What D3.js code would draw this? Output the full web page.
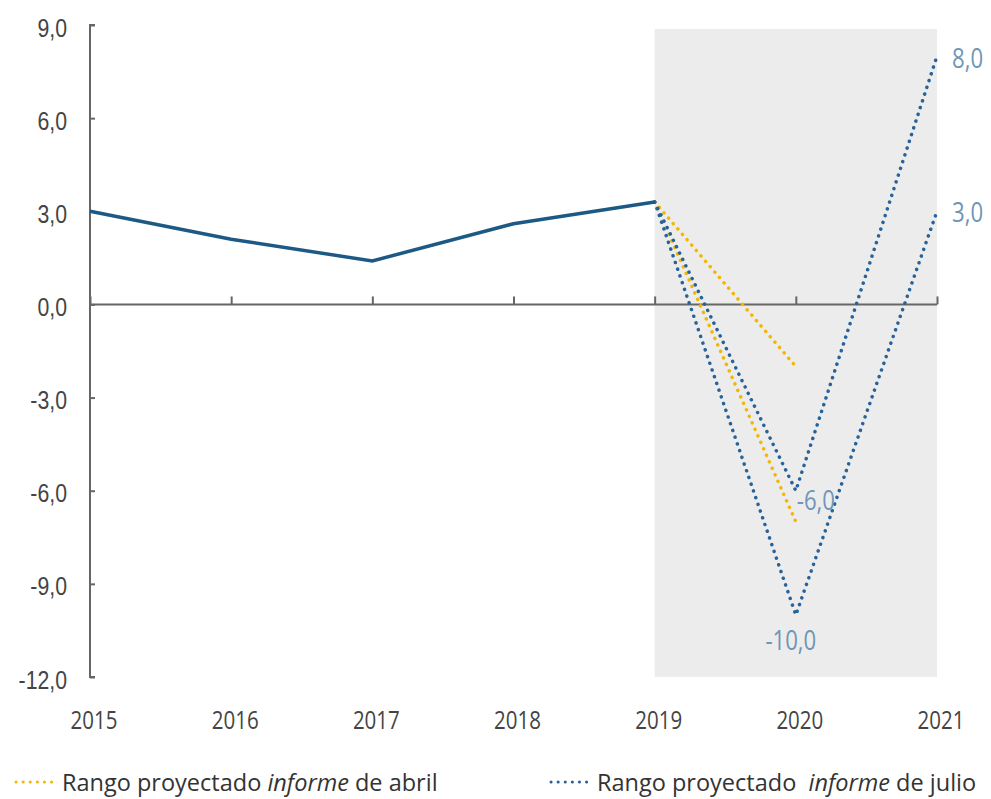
<!DOCTYPE html>
<html>
<head>
<meta charset="utf-8">
<script src="https://cdnjs.cloudflare.com/ajax/libs/d3/7.8.5/d3.min.js"></script>
<style>
  body { margin: 0; background: #fff; }
  svg { font-family: "Open Sans", "Noto Sans", sans-serif; }
</style>
</head>
<body>
<svg></svg>
<script>
// historical growth
var years = [2015, 2016, 2017, 2018, 2019];
var growth = [3.0, 2.1, 1.4, 2.6, 3.3];

// projection ranges
var projYears = [2019, 2020, 2021];
var abrilLow = [3.3, -7.0];
var abrilHigh = [3.3, -2.0];
var julioLow = [3.3, -10.0, 3.0];
var julioHigh = [3.3, -6.0, 8.0];

var yTicks = [9, 6, 3, 0, -3, -6, -9, -12];
var xTicks = [2015, 2016, 2017, 2018, 2019, 2020, 2021];

var svgW = 991, svgH = 799;
var svg = d3.select("svg").attr("width", svgW).attr("height", svgH);

var xScale = d3.scaleLinear().domain([2015, 2021]).range([90, 937]);
var yScale = d3.scaleLinear().domain([-12, 9]).range([677, 25]);

var fmt = function(v) { return d3.format(".1f")(v).replace(".", ",").replace("−", "-"); };

// squeeze text to look like the narrow font of the original
function condense(sel, k) {
  sel.each(function() {
    var w = this.getComputedTextLength();
    d3.select(this).attr("textLength", w * k).attr("lengthAdjust", "spacingAndGlyphs");
  });
}

// shaded projection area
svg.append("rect")
  .attr("x", xScale(2019))
  .attr("y", yScale(9) + 4)
  .attr("width", xScale(2021) - xScale(2019))
  .attr("height", yScale(-12) - yScale(9) - 4)
  .style("fill", "#ececec");

// y axis
var yAxis = svg.append("g")
  .attr("transform", "translate(" + xScale(2015) + ",0)")
  .call(d3.axisRight(yScale).tickValues(yTicks).tickSize(5).tickFormat(fmt));
yAxis.select(".domain").attr("d", "M5," + yScale(9) + "H0V" + yScale(-12) + "H5");
yAxis.selectAll("line").style("stroke", "#666").style("stroke-width", 2);
yAxis.select(".domain").style("stroke", "#666").style("stroke-width", 2);
yAxis.selectAll("text")
  .attr("x", -23)
  .attr("y", 2)
  .attr("dy", "0.36em")
  .style("text-anchor", "end")
  .style("font-size", "25px")
  .style("fill", "#444")
  .call(condense, 0.85);

// x axis at zero
var xAxis = svg.append("g")
  .attr("transform", "translate(0," + yScale(0) + ")")
  .call(d3.axisTop(xScale).tickValues(xTicks).tickSize(8).tickFormat(""));
xAxis.select(".domain").attr("d", "M" + xScale(2015) + ",0H" + xScale(2021));
xAxis.selectAll("line").style("stroke", "#666").style("stroke-width", 2);
xAxis.select(".domain").style("stroke", "#666").style("stroke-width", 2);

// year labels at bottom
svg.append("g").selectAll("text")
  .data(xTicks)
  .enter().append("text")
  .attr("x", function(d) { return xScale(d) + 4; })
  .attr("y", 729)
  .style("text-anchor", "middle")
  .style("font-size", "25px")
  .style("fill", "#444")
  .text(function(d) { return d; })
  .call(condense, 0.82);

var line = d3.line()
  .x(function(d) { return xScale(d[0]); })
  .y(function(d) { return yScale(d[1]); });

function pairs(xs, vs) {
  return vs.map(function(v, i) { return [xs[i], v]; });
}

// abril range (yellow)
[abrilLow, abrilHigh].forEach(function(s) {
  svg.append("path")
    .datum(pairs(projYears, s))
    .attr("d", line)
    .style("fill", "none")
    .style("stroke", "#f2b705")
    .style("stroke-width", 3.5)
    .style("stroke-linecap", "round")
    .style("stroke-dasharray", "0.1 7");
});

// julio range (blue)
[julioLow, julioHigh].forEach(function(s) {
  svg.append("path")
    .datum(pairs(projYears, s))
    .attr("d", line)
    .style("fill", "none")
    .style("stroke", "#27639a")
    .style("stroke-width", 3.5)
    .style("stroke-linecap", "round")
    .style("stroke-dasharray", "0.1 7");
});

// historical line
svg.append("path")
  .datum(pairs(years, growth))
  .attr("d", line)
  .style("fill", "none")
  .style("stroke", "#1c5a85")
  .style("stroke-width", 3.5);

// value labels
var labelColor = "#6f95b8";
var labels = [
  { x: 2021, v: julioHigh[2], dx: 15, dy: 12, anchor: "start" },
  { x: 2021, v: julioLow[2], dx: 15, dy: 11, anchor: "start" },
  { x: 2020, v: julioHigh[1], dx: 1, dy: 19, anchor: "start" },
  { x: 2020, v: julioLow[1], dx: -5, dy: 35, anchor: "middle" }
];
svg.append("g").selectAll("text")
  .data(labels)
  .enter().append("text")
  .attr("x", function(d) { return xScale(d.x) + d.dx; })
  .attr("y", function(d) { return yScale(d.v) + d.dy; })
  .style("text-anchor", function(d) { return d.anchor; })
  .style("font-size", "27px")
  .style("fill", labelColor)
  .text(function(d) { return fmt(d.v); })
  .call(condense, 0.82);

// legend
var legendItems = [
  { x: 15, color: "#f2b705", pre: "Rango proyectado ", end: " de abril" },
  { x: 550, color: "#27639a", pre: "Rango proyectado  ", end: " de julio" }
];
var legend = svg.selectAll(".legend")
  .data(legendItems)
  .enter().append("g")
  .attr("class", "legend");

legend.append("line")
  .attr("x1", function(d) { return d.x + 1; })
  .attr("x2", function(d) { return d.x + 43; })
  .attr("y1", 782)
  .attr("y2", 782)
  .style("stroke", function(d) { return d.color; })
  .style("stroke-width", 3)
  .style("stroke-linecap", "round")
  .style("stroke-dasharray", "0.1 7");

var lt = legend.append("text")
  .attr("x", function(d) { return d.x + 47; })
  .attr("y", 791)
  .style("font-size", "23.5px")
  .style("fill", "#333")
  .style("white-space", "pre");
lt.append("tspan").text(function(d) { return d.pre; });
lt.append("tspan").style("font-style", "italic").text("informe");
lt.append("tspan").text(function(d) { return d.end; });
</script>
</body>
</html>
